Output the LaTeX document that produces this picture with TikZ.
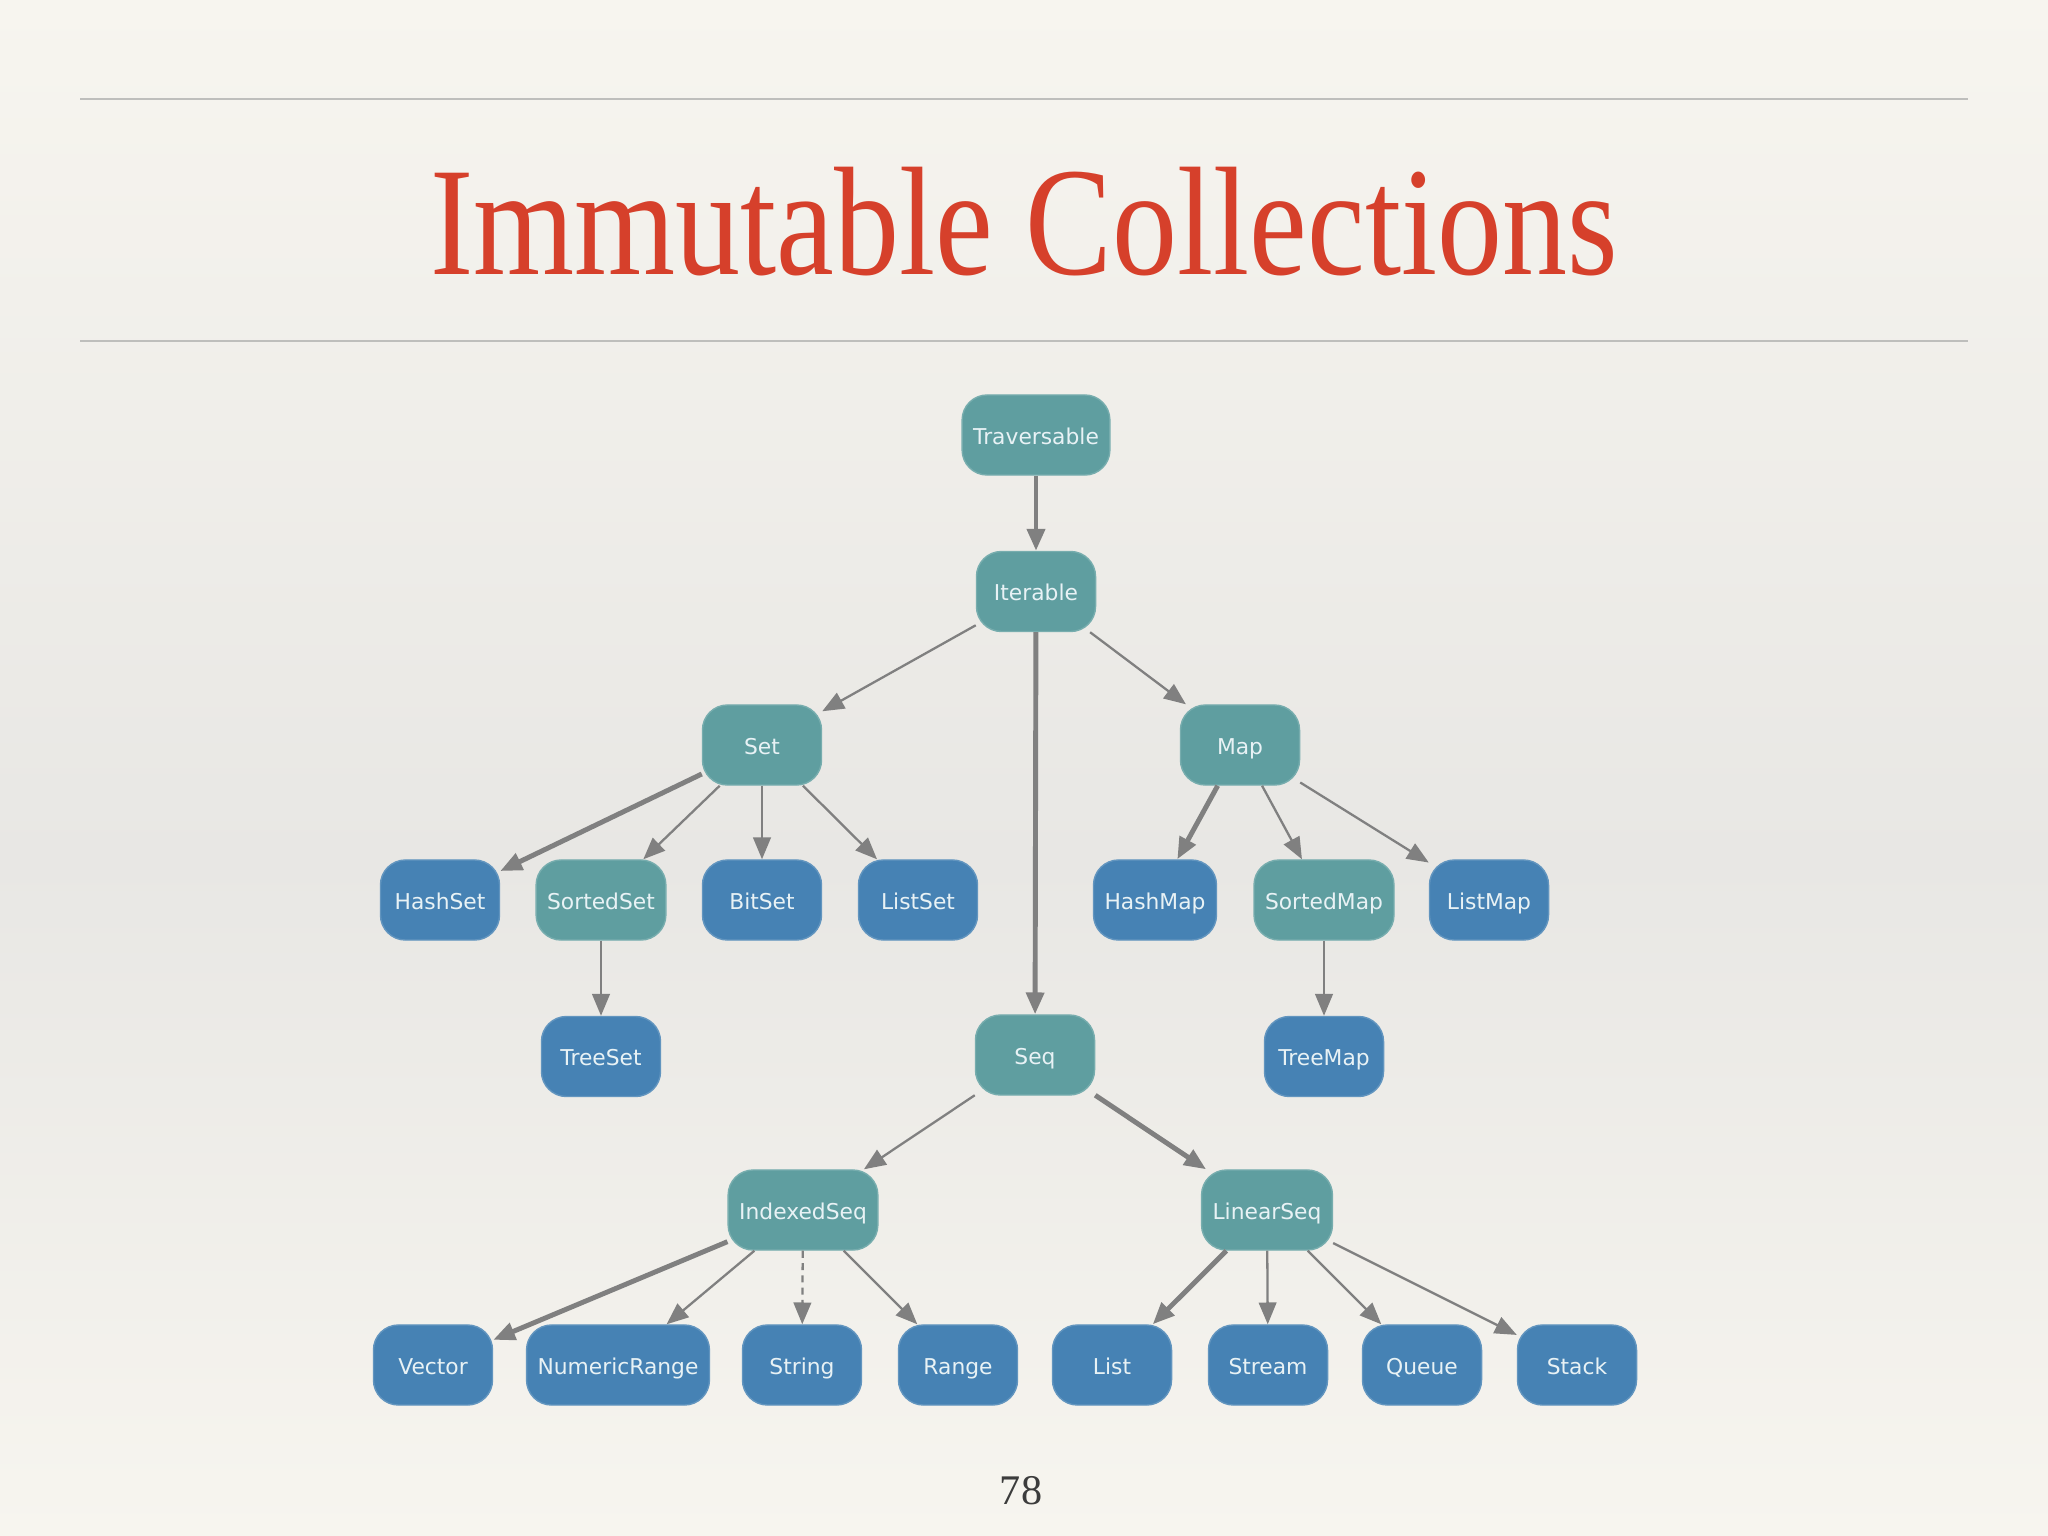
\documentclass[tikz,border=0pt]{standalone}
\usepackage{fontspec}
\setmainfont{Liberation Serif}
\newfontfamily\nodefont{DejaVu Sans}
\usetikzlibrary{positioning, arrows.meta}
\definecolor{slidebg}{RGB}{247,245,239}
\definecolor{slidemid}{RGB}{232,231,228}
\definecolor{rulecolor}{RGB}{190,190,188}
\definecolor{titlecolor}{RGB}{214,64,43}
\definecolor{pagecolor}{RGB}{60,60,60}
\definecolor{traitcolor}{RGB}{95,158,160}
\definecolor{classcolor}{RGB}{70,130,180}
\definecolor{edgecolor}{RGB}{128,128,128}
\definecolor{labelcolor}{RGB}{232,242,245}

\begin{document}
\begin{tikzpicture}[
    x=0.01cm, y=-0.01cm,
    box/.style={rectangle, rounded corners=0.25cm, minimum width=1.19cm, minimum height=0.8cm, inner xsep=0.11cm, text height=0.75em, text depth=0.22em, font=\nodefont\fontsize{6.2}{7.5}\selectfont, text=labelcolor, line width=0.4pt},
    trait/.style={box, fill=traitcolor, draw=traitcolor!85!white},
    class/.style={box, fill=classcolor, draw=classcolor!85!white},
    arrow/.style={-{Triangle[length=6.2pt, width=5pt]}, draw=edgecolor, line width=0.65pt},
    heavy/.style={arrow, line width=1.4pt},
]

% Slide background
\useasboundingbox (0,0) rectangle (2048,1536);
\shade[top color=slidebg, bottom color=slidemid] (0,0) rectangle (2048,860);
\shade[top color=slidemid, bottom color=slidebg] (0,860) rectangle (2048,1536);

% Title and rules
\draw[rulecolor, line width=0.6pt] (80,99) -- (1968,99);
\draw[rulecolor, line width=0.6pt] (80,341) -- (1968,341);
\node[font=\fontsize{44}{50}\selectfont, text=titlecolor, anchor=base] (title) at (1024,274) {\scalebox{0.84}[1]{Immutable Collections}};

% Root
\node[trait] (trav) at (1036,435) {Traversable};
\node[trait, below=0.75cm of trav] (iter) {Iterable};

% Second level
\node[trait] (set) at (762,745) {Set};
\node[trait] (map) at (1240,745) {Map};

% Sets
\node[class] (hashset) at (440,900) {HashSet};
\node[trait] (sortedset) at (601,900) {SortedSet};
\node[class] (bitset) at (762,900) {BitSet};
\node[class] (listset) at (918,900) {ListSet};
\node[class, below=0.75cm of sortedset] (treeset) {TreeSet};

% Maps
\node[class] (hashmap) at (1155,900) {HashMap};
\node[trait] (sortedmap) at (1324,900) {SortedMap};
\node[class] (listmap) at (1489,900) {ListMap};
\node[class, below=0.75cm of sortedmap] (treemap) {TreeMap};

% Seqs
\node[trait] (seq) at (1035,1055) {Seq};
\node[trait] (indexedseq) at (803,1210) {IndexedSeq};
\node[trait] (linearseq) at (1267,1210) {LinearSeq};

\node[class] (vector) at (433,1365) {Vector};
\node[class] (numrange) at (618,1365) {NumericRange};
\node[class] (string) at (802,1365) {String};
\node[class] (range) at (958,1365) {Range};
\node[class] (list) at (1112,1365) {List};
\node[class] (stream) at (1268,1365) {Stream};
\node[class] (queue) at (1422,1365) {Queue};
\node[class] (stack) at (1577,1365) {Stack};

% Arrows
\draw[heavy] (trav) -- (iter);
\draw[arrow] (iter) -- (set);
\draw[heavy] (iter) -- (seq);
\draw[arrow] (iter) -- (map);

\draw[heavy] (set) -- (hashset);
\draw[arrow] (set) -- (sortedset);
\draw[arrow] (set) -- (bitset);
\draw[arrow] (set) -- (listset);
\draw[arrow] (sortedset) -- (treeset);

\draw[heavy] (map) -- (hashmap);
\draw[arrow] (map) -- (sortedmap);
\draw[arrow] (map) -- (listmap);
\draw[arrow] (sortedmap) -- (treemap);

\draw[arrow] (seq) -- (indexedseq);
\draw[heavy] (seq) -- (linearseq);

\draw[heavy] (indexedseq) -- (vector);
\draw[arrow] (indexedseq) -- (numrange);
\draw[arrow, dash pattern=on 2pt off 1.5pt] (indexedseq) -- (string);
\draw[arrow] (indexedseq) -- (range);

\draw[heavy] (linearseq) -- (list);
\draw[arrow] (linearseq) -- (stream);
\draw[arrow] (linearseq) -- (queue);
\draw[arrow] (linearseq) -- (stack);

% Page number
\node[font=\fontsize{12}{14}\selectfont, text=pagecolor] (page) at (1021,1491) {78};

\end{tikzpicture}
\end{document}
